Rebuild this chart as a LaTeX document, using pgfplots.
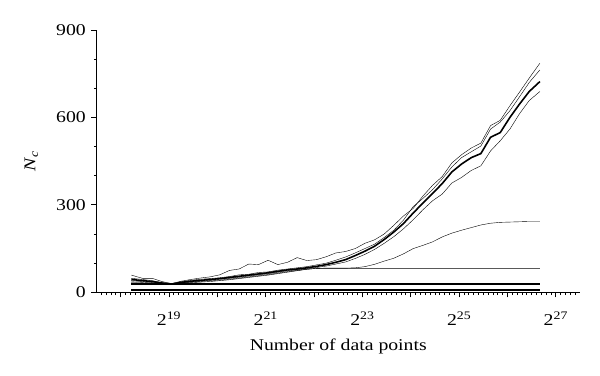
\documentclass[border=0pt]{standalone}
\usepackage{fontspec}
\setmainfont{Liberation Serif}[FakeStretch=1.2]
\usepackage{pgfplots}
\usepackage{pgfplotstable}
\pgfplotsset{compat=1.18}

\pgfplotstableread{
L      A    B    C    D    E    F
18.22  59   48   44   40   36   33
18.45  48   44   40   37   34   31
18.65  48   40   37   34   32   30
18.85  37   33   32   31   30   29
19.05  30   29   28   28   27   27
19.25  38   36   34   33   32   31
19.45  44   41   38   36   35   33
19.65  49   45   41   39   37   35
19.85  53   47   44   42   40   37
20.05  60   50   47   45   42   40
20.25  75   54   51   48   45   43
20.45  80   60   55   52   49   47
20.65  97   62   59   56   53   51
20.85  95   68   63   60   57   55
21.05  110  70   67   64   61   59
21.25  95   76   72   69   66   64
21.45  103  80   77   74   71   69
21.65  119  84   80   77   75   74
21.85  109  88   84   81   79   79
22.05  112  94   89   85   82   82
22.25  122  100  95   90   83   82
22.45  135  110  103  97   83   82
22.65  140  121  112  104  83   82
22.85  150  135  126  116  84   82
23.05  168  150  141  130  88   82
23.25  180  165  158  147  96   82
23.45  200  188  181  168  107  82
23.65  230  213  207  191  117  82
23.85  262  248  236  218  132  82
24.05  288  294  272  249  150  82
24.25  330  322  306  283  161  82
24.45  367  352  339  314  173  82
24.65  397  389  373  337  190  82
24.85  444  430  413  375  203  82
25.05  472  462  440  394  213  82
25.25  495  482  462  418  222  82
25.45  512  502  476  434  231  82
25.65  572  560  532  485  237  82
25.85  590  584  548  520  240  82
26.05  640  623  600  560  241  82
26.25  687  671  646  613  242  82
26.45  735  720  689  658  243  82
26.67  786  763  723  689  243  82
}\datatable

\newcommand{\bigfont}{\fontsize{16.5}{19}\selectfont}
\newcommand{\pw}[1]{2\textsuperscript{#1}}

\begin{document}
\bigfont
\begin{tikzpicture}
\path[use as bounding box] (-96.5bp,-83.7bp) rectangle (503.5bp,292.3bp);
\begin{axis}[
  scale only axis,
  width=483.5bp, height=262.3bp,
  at={(0,0)}, anchor=south west,
  font=\bigfont,
  tick label style={font=\bigfont},
  label style={font=\bigfont},
  xmin=17.5, xmax=27.5,
  ymin=0, ymax=900,
  axis x line*=bottom, axis y line*=left,
  axis line style={line width=1bp},
  tick align=outside,
  tick style={black, line width=0.9bp},
  major tick length=5bp,
  minor tick length=2.7bp,
  xtick={18,19,20,21,22,23,24,25,26,27},
  xticklabels={,\pw{19},,\pw{21},,\pw{23},,\pw{25},,\pw{27}},
  xticklabel style={anchor=base, yshift=-28bp},
  minor xtick={17.6,17.7,17.8,17.9,18.1,18.2,18.3,18.4,18.5,18.6,18.7,18.8,18.9,19.1,19.2,19.3,19.4,19.5,19.6,19.7,19.8,19.9,20.1,20.2,20.3,20.4,20.5,20.6,20.7,20.8,20.9,21.1,21.2,21.3,21.4,21.5,21.6,21.7,21.8,21.9,22.1,22.2,22.3,22.4,22.5,22.6,22.7,22.8,22.9,23.1,23.2,23.3,23.4,23.5,23.6,23.7,23.8,23.9,24.1,24.2,24.3,24.4,24.5,24.6,24.7,24.8,24.9,25.1,25.2,25.3,25.4,25.5,25.6,25.7,25.8,25.9,26.1,26.2,26.3,26.4,26.5,26.6,26.7,26.8,26.9,27.1,27.2,27.3,27.4},
  ytick={0,300,600,900},
  yticklabels={0,300,600,900},
  minor ytick={100,200,400,500,700,800},
  xlabel={Number of data points},
  ylabel={\itshape N\textsubscript{c}},
  xlabel style={at={(axis description cs:0.5,0)}, anchor=base, yshift=-58bp},
  ylabel style={at={(axis description cs:-0.135,0.5)}, anchor=center},
  cycle list={{black, solid, line width=1.6bp, mark=none}},
  clip=false,
]
\addplot table[x=L,y=A] {\datatable};
\addplot table[x=L,y=B] {\datatable};
\addplot table[x=L,y=C] {\datatable};
\addplot table[x=L,y=D] {\datatable};
\addplot table[x=L,y=E] {\datatable};
\addplot table[x=L,y=F] {\datatable};
\addplot coordinates {(18.22,29) (26.67,29)};
\addplot coordinates {(18.22,11) (26.67,11)};
\addplot coordinates {(18.22,7) (26.67,7)};
\end{axis}
\end{tikzpicture}
\end{document}
